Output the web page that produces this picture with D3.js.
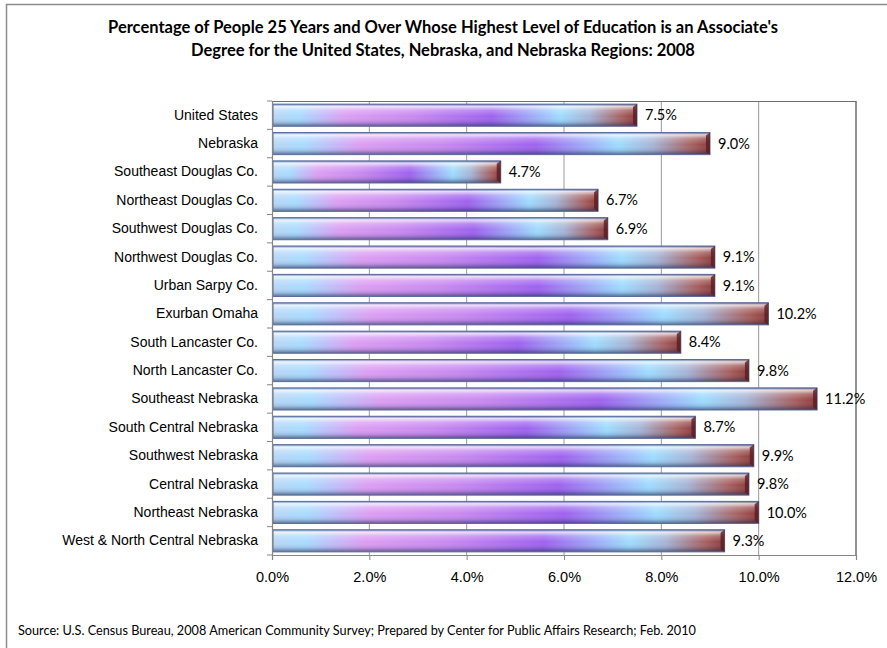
<!DOCTYPE html>
<html>
<head>
<meta charset="utf-8">
<script src="https://cdn.jsdelivr.net/npm/d3@7"></script>
<style>
  body { margin: 0; background: #fff; }
  svg { display: block; font-family: Lato, "Open Sans", sans-serif; }
  .axis path, .axis line { stroke: #868686; }
  .axis text { fill: #000; }
</style>
</head>
<body>
<div id="chart"></div>
<script>
var regions = ["United States", "Nebraska", "Southeast Douglas Co.", "Northeast Douglas Co.",
  "Southwest Douglas Co.", "Northwest Douglas Co.", "Urban Sarpy Co.", "Exurban Omaha",
  "South Lancaster Co.", "North Lancaster Co.", "Southeast Nebraska", "South Central Nebraska",
  "Southwest Nebraska", "Central Nebraska", "Northeast Nebraska", "West & North Central Nebraska"];
var pct = [7.5, 9.0, 4.7, 6.7, 6.9, 9.1, 9.1, 10.2, 8.4, 9.8, 11.2, 8.7, 9.9, 9.8, 10.0, 9.3];
var xTicks = [0, 2, 4, 6, 8, 10, 12];

var W = 887, H = 648;
var margin = {top: 101, right: 31, bottom: 93, left: 272};
var width = W - margin.left - margin.right;
var height = H - margin.top - margin.bottom;

var svg = d3.select("#chart").append("svg")
  .attr("width", W).attr("height", H);

// outer chart border
svg.append("path")
  .attr("d", "M6.5," + H + "V4.5H" + W)
  .attr("fill", "none").attr("stroke", "#8c8c8c").attr("stroke-width", 1.5);

var defs = svg.append("defs");
var hg = defs.append("linearGradient").attr("id", "hgrad")
  .attr("x1", 0).attr("x2", 1).attr("y1", 0).attr("y2", 0);
[["0%", "#b9d6f5"], ["7%", "#a9dcff"], ["20%", "#dc9ef3"], ["38%", "#c98af0"],
 ["60%", "#9f62ef"], ["79%", "#9fdcff"], ["87%", "#a7b4d6"], ["96%", "#a65f5e"], ["100%", "#8c3a3a"]]
  .forEach(function(s) { hg.append("stop").attr("offset", s[0]).attr("stop-color", s[1]); });

var vg = defs.append("linearGradient").attr("id", "vgrad")
  .attr("x1", 0).attr("x2", 0).attr("y1", 0).attr("y2", 1);
[["0%", "#3d5f9a", 0.7], ["10%", "#ffffff", 0.75], ["28%", "#ffffff", 0.25], ["55%", "#ffffff", 0],
 ["82%", "#20305a", 0.15], ["100%", "#1c2a55", 0.6]]
  .forEach(function(s) { vg.append("stop").attr("offset", s[0]).attr("stop-color", s[1]).attr("stop-opacity", s[2]); });

var g = svg.append("g")
  .attr("transform", "translate(" + margin.left + "," + margin.top + ")");

var x = d3.scaleLinear().domain([0, 12]).range([0, width]);
var y = d3.scaleBand().domain(regions).range([0, height]).paddingInner(0.22).paddingOuter(0.11);

// gridlines
g.append("g").selectAll("line")
  .data(xTicks.slice(1))
  .enter().append("line")
  .attr("x1", function(d) { return x(d); }).attr("x2", function(d) { return x(d); })
  .attr("y1", 0).attr("y2", height)
  .attr("stroke", function(d) { return d === 12 ? "#6e6e6e" : "#9a9a9a"; })
  .attr("stroke-width", function(d) { return d === 12 ? 1.5 : 1; });

g.append("line").attr("x1", 0).attr("x2", width).attr("y1", 0.5).attr("y2", 0.5)
  .attr("stroke", "#6e6e6e").attr("stroke-width", 1.2);

var data = regions.map(function(r, i) { return {name: r, v: pct[i]}; });

var bars = g.append("g").selectAll("g")
  .data(data).enter().append("g")
  .attr("transform", function(d) { return "translate(0," + y(d.name) + ")"; });

var bh = y.bandwidth();

bars.append("rect")
  .attr("x", 1).attr("y", 0)
  .attr("width", function(d) { return x(d.v) - 1; })
  .attr("height", bh)
  .attr("fill", "url(#hgrad)");

bars.append("rect")
  .attr("x", 1).attr("y", 0)
  .attr("width", function(d) { return x(d.v) - 1; })
  .attr("height", bh)
  .attr("fill", "url(#vgrad)")
  .attr("stroke", "#5c6f9c").attr("stroke-width", 1);

// bevelled end cap
bars.append("path")
  .attr("d", function(d) {
    var e = x(d.v);
    return "M" + (e - 4) + ",3L" + e + ",0V" + bh + "L" + (e - 4) + "," + (bh - 3) + "Z";
  })
  .attr("fill", "#5a1c22").attr("opacity", 0.8);

bars.append("text")
  .attr("x", function(d) { return x(d.v) + 8; })
  .attr("y", bh / 2)
  .attr("dy", "0.35em")
  .attr("font-size", 14.5)
  .text(function(d) { return d.v.toFixed(1) + "%"; });

// axes
var yAxis = g.append("g").attr("class", "axis")
  .call(d3.axisLeft(y).tickSize(0).tickPadding(14));
yAxis.selectAll("text").attr("font-size", 14);
yAxis.select(".domain").attr("stroke-width", 1.2);
// band boundary ticks
g.append("g").selectAll("line")
  .data(d3.range(regions.length + 1))
  .enter().append("line")
  .attr("x1", -5).attr("x2", 0)
  .attr("y1", function(i) { return i * height / regions.length; })
  .attr("y2", function(i) { return i * height / regions.length; })
  .attr("stroke", "#868686");

var xAxis = g.append("g").attr("class", "axis")
  .attr("transform", "translate(0," + height + ")")
  .call(d3.axisBottom(x).tickValues(xTicks).tickSize(5).tickPadding(12)
    .tickFormat(function(d) { return d.toFixed(1) + "%"; }));
xAxis.selectAll("text").attr("font-size", 14.5);
xAxis.select(".domain").attr("stroke-width", 1.2);

// title
var title = svg.append("text")
  .attr("text-anchor", "middle")
  .attr("font-size", 16.5).attr("font-weight", "bold");
title.append("tspan").attr("x", 443).attr("y", 33)
  .text("Percentage of People 25 Years and Over Whose Highest Level of Education is an Associate's");
title.append("tspan").attr("x", 443).attr("y", 56)
  .text("Degree for the United States, Nebraska, and Nebraska Regions: 2008");

svg.append("text")
  .attr("x", 18).attr("y", 635)
  .attr("font-size", 12.7)
  .text("Source: U.S. Census Bureau, 2008 American Community Survey; Prepared by Center for Public Affairs Research; Feb. 2010");
</script>
</body>
</html>
